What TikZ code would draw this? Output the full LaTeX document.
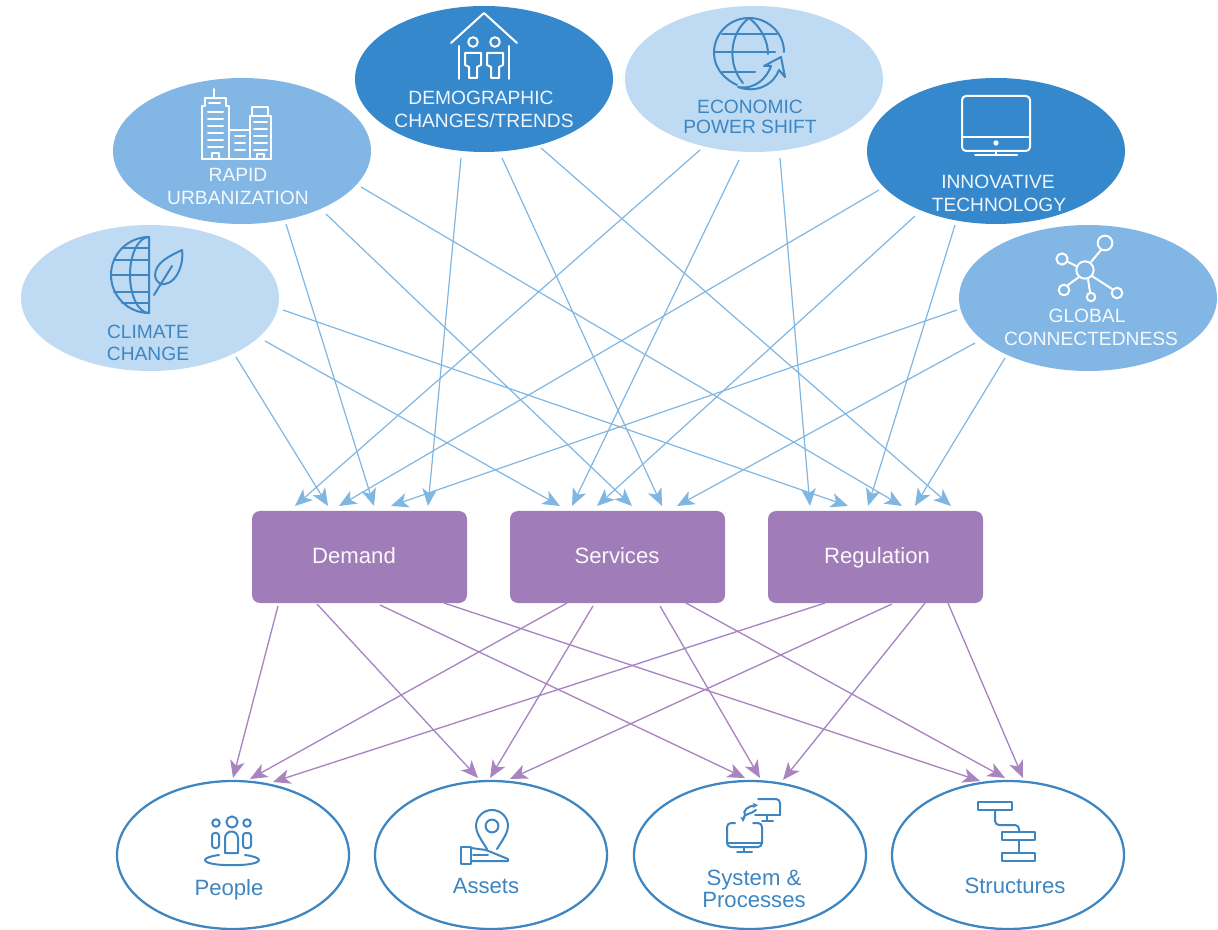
\documentclass[tikz,border=0pt]{standalone}
\usepackage{fontspec}
\setmainfont{Liberation Sans}
\usetikzlibrary{arrows.meta,calc,shapes.geometric}
\definecolor{lightb}{HTML}{BFDAF3}
\definecolor{midb}{HTML}{82B6E4}
\definecolor{darkb}{HTML}{3688CC}
\definecolor{inkb}{HTML}{3D86C2}
\definecolor{arrowb}{HTML}{7FB6E2}
\definecolor{purp}{HTML}{A07CB8}
\definecolor{purpl}{HTML}{A884C0}
\tikzset{
  topell/.style={ellipse,minimum width=193.5pt,minimum height=109.5pt,inner sep=0pt,outer sep=0pt,draw=none},
  midbox/.style={rectangle,rounded corners=6pt,fill=purp,minimum width=161.25pt,minimum height=69pt,inner sep=0pt,outer sep=0pt,draw=none},
  botell/.style={ellipse,minimum width=174pt,minimum height=111pt,inner sep=0pt,outer sep=0pt,draw=inkb,line width=1.7pt,fill=white},
  bluearrow/.style={draw=arrowb,line width=0.9pt,-{Stealth[length=13pt,width=11pt,inset=3.5pt]}},
  purparrow/.style={draw=purpl,line width=1pt,-{Stealth[length=13pt,width=11pt,inset=3.5pt]}},
  toptext/.style={font=\fontsize{14.4}{17}\selectfont,inner sep=0pt,anchor=center},
  bottext/.style={font=\fontsize{16.6}{19}\selectfont,inner sep=0pt,anchor=center,text=inkb},
  boxtext/.style={font=\fontsize{16.6}{19}\selectfont,inner sep=0pt,anchor=center,text=white!95!purp},
  iconw/.style={draw=white,line width=1.5pt,line join=round,line cap=round},
  iconb/.style={draw=inkb,line width=1.5pt,line join=round,line cap=round},
}
\begin{document}
\begin{tikzpicture}[x=0.75pt,y=-0.75pt]
\useasboundingbox (0,0) rectangle (1218,930);
% top ellipses
\node[topell,fill=lightb] (cli) at (150,298) {};
\node[topell,fill=midb]   (rap) at (242,151) {};
\node[topell,fill=darkb]  (demo) at (484,79) {};
\node[topell,fill=lightb] (eco) at (754,79) {};
\node[topell,fill=darkb]  (inn) at (996,151) {};
\node[topell,fill=midb]   (glo) at (1088,298) {};
% boxes
\node[midbox] (dem) at (359.5,557) {};
\node[midbox] (ser) at (617.5,557) {};
\node[midbox] (reg) at (875.5,557) {};
% bottom ellipses
\node[botell] (peo) at (233,855) {};
\node[botell] (ass) at (491,855) {};
\node[botell] (sys) at (750,855) {};
\node[botell] (str) at (1008,855) {};
% blue connectors
\draw[bluearrow] ($(cli)+(86,59)$) -- ($(dem.north west)+(76,-5)$);
\draw[bluearrow] ($(cli)+(115,43)$) -- ($(ser.north west)+(50,-5)$);
\draw[bluearrow] ($(cli)+(133,12)$) -- ($(reg.north west)+(80,-5)$);
\draw[bluearrow] ($(rap)+(44,73)$) -- ($(dem.north west)+(122,-5)$);
\draw[bluearrow] ($(rap)+(84,63)$) -- ($(ser.north west)+(122,-5)$);
\draw[bluearrow] ($(rap)+(119,36)$) -- ($(reg.north west)+(134,-5)$);
\draw[bluearrow] ($(demo)+(-23,79)$) -- ($(dem.north west)+(176,-5)$);
\draw[bluearrow] ($(demo)+(18,79)$) -- ($(ser.north west)+(152,-5)$);
\draw[bluearrow] ($(demo)+(57,69)$) -- ($(reg.north west)+(183,-5)$);
\draw[bluearrow] ($(eco)+(-54,71)$) -- ($(dem.north west)+(43,-5)$);
\draw[bluearrow] ($(eco)+(-15,81)$) -- ($(ser.north west)+(62,-5)$);
\draw[bluearrow] ($(eco)+(26,79)$) -- ($(reg.north west)+(42,-5)$);
\draw[bluearrow] ($(inn)+(-117,39)$) -- ($(dem.north west)+(87,-5)$);
\draw[bluearrow] ($(inn)+(-81,65)$) -- ($(ser.north west)+(87,-5)$);
\draw[bluearrow] ($(inn)+(-41,74)$) -- ($(reg.north west)+(100,-5)$);
\draw[bluearrow] ($(glo)+(-131,12)$) -- ($(dem.north west)+(139,-5)$);
\draw[bluearrow] ($(glo)+(-113,45)$) -- ($(ser.north west)+(167,-5)$);
\draw[bluearrow] ($(glo)+(-83,60)$) -- ($(reg.north west)+(147,-5)$);
% purple connectors
\draw[purparrow] ($(dem.south west)+(26,3)$) -- ($(peo)+(0,-77)$);
\draw[purparrow] ($(dem.south west)+(65,1)$) -- ($(ass)+(-13,-77)$);
\draw[purparrow] ($(dem.south west)+(128,2)$) -- ($(sys)+(-5,-77)$);
\draw[purparrow] ($(dem.south west)+(192,0)$) -- ($(str)+(-28,-74)$);
\draw[purparrow] ($(ser.south west)+(57,0)$) -- ($(peo)+(17,-76)$);
\draw[purparrow] ($(ser.south west)+(83,3)$) -- ($(ass)+(-1,-77)$);
\draw[purparrow] ($(ser.south west)+(150,3)$) -- ($(sys)+(10,-77)$);
\draw[purparrow] ($(ser.south west)+(176,0)$) -- ($(str)+(-3,-77)$);
\draw[purparrow] ($(reg.south west)+(57,0)$) -- ($(peo)+(40,-73)$);
\draw[purparrow] ($(reg.south west)+(124,1)$) -- ($(ass)+(19,-76)$);
\draw[purparrow] ($(reg.south west)+(157,0)$) -- ($(sys)+(33,-75)$);
\draw[purparrow] ($(reg.south west)+(180,0)$) -- ($(str)+(15,-77)$);
% top labels
\node[toptext,text=inkb] (t1) at (148,332) {CLIMATE};
\node[toptext,text=inkb] (t2) at (148,354) {CHANGE};
\node[toptext,text=white!92!midb] (t3) at (238,175) {RAPID};
\node[toptext,text=white!92!midb] (t4) at (238,198) {URBANIZATION};
\node[toptext,text=white!92!darkb] (t5) at (481,98) {DEMOGRAPHIC};
\node[toptext,text=white!92!darkb] (t6) at (484,121) {CHANGES/TRENDS};
\node[toptext,text=inkb] (t7) at (750,107) {ECONOMIC};
\node[toptext,text=inkb] (t8) at (750,127) {POWER SHIFT};
\node[toptext,text=white!92!darkb] (t9) at (998,182) {INNOVATIVE};
\node[toptext,text=white!92!darkb] (t10) at (999,205) {TECHNOLOGY};
\node[toptext,text=white!92!midb] (t11) at (1087,316) {GLOBAL};
\node[toptext,text=white!92!midb] (t12) at (1091,339) {CONNECTEDNESS};
% box labels
\node[boxtext] (b1) at (354,556) {Demand};
\node[boxtext] (b2) at (617,556) {Services};
\node[boxtext] (b3) at (877,558) {Regulation};
% bottom labels
\node[bottext] (l1) at (229,890) {People};
\node[bottext] (l2) at (486,886) {Assets};
\node[bottext] (l3) at (754,880) {System \&};
\node[bottext] (l4) at (754,900) {Processes};
\node[bottext] (l5) at (1015,886) {Structures};
% icon: buildings
\draw[iconw] (202,159) -- (271,159);
\draw[iconw] (202,159) -- (202,106) -- (205,106) -- (205,98) -- (226,98) -- (226,106) -- (229,106) -- (229,159);
\draw[iconw] (214,98) -- (214,89);
\draw[iconw] (209,103) -- (220,103);
\foreach \yy in {112,119,126,133,140,147} {\draw[iconw] (208,\yy) -- (223,\yy);}
\draw[iconw] (212,159) -- (212,153) -- (219,153) -- (219,159);
\draw[iconw] (229,130) -- (250,130);
\foreach \yy in {136,143,150} {\draw[iconw] (235,\yy) -- (245,\yy);}
\draw[iconw] (250,159) -- (250,116) -- (271,116) -- (271,159);
\draw[iconw] (252,116) -- (252,107) -- (268,107) -- (268,116);
\foreach \yy in {122,129,136,143,150} {\draw[iconw] (254,\yy) -- (267,\yy);}
\draw[iconw] (257,159) -- (257,154) -- (264,154) -- (264,159);
% icon: house
\draw[iconw] (451,43) -- (484,13) -- (517,43);
\draw[iconw] (459,46) -- (459,79);
\draw[iconw] (509,46) -- (509,79);
\draw[iconw] (473,42) circle[radius=3.6pt];
\draw[iconw] (495,42) circle[radius=3.6pt];
\foreach \dx in {0,22} {
  \draw[iconw,xshift=\dx*0.75pt] (465,53) -- (481,53) -- (481,65) -- (477,67) -- (477,78) -- (469,78) -- (469,67) -- (465,65) -- cycle;
}
% icon: globe with leaf
\draw[iconb] (149,237) arc[start angle=270,end angle=90,radius=38] -- cycle;
\draw[iconb] (149,237) arc[start angle=270,end angle=90,x radius=19,y radius=38];
\draw[iconb] (114,260) -- (149,260);
\draw[iconb] (111,275) -- (149,275);
\draw[iconb] (114,292) -- (149,292);
\draw[iconb] (122,248) -- (149,248);
\draw[iconb] (122,303) -- (149,303);
\draw[iconb] (182,250) .. controls (170,256) and (155,262) .. (155,276) .. controls (157,284) and (162,285) .. (165,284) .. controls (178,282) and (184,262) .. (182,250) -- cycle;
\draw[iconb] (154,295) -- (172,266);
% icon: economic globe
\draw[iconb] (737,85) .. controls (722,78) and (714,66) .. (714,53) .. controls (714,33) and (730,18) .. (749,18) .. controls (768,18) and (784,33) .. (784,52);
\draw[iconb] (749,18) .. controls (728,34) and (728,66) .. (743,83);
\draw[iconb] (749,18) .. controls (762,28) and (768,42) .. (768,54);
\draw[iconb] (722,34) -- (777,34);
\draw[iconb] (714,52) -- (775,52);
\draw[iconb] (722,72) -- (755,72);
\draw[iconb,fill=lightb] (738,87) .. controls (755,90) and (767,78) .. (771,66) -- (764,66) -- (781,57) -- (785,77) -- (779,70) .. controls (774,84) and (757,94) .. (738,87) -- cycle;
% icon: monitor
\draw[iconw,rounded corners=3pt] (962,96) rectangle (1030,151);
\draw[iconw] (962,137) -- (1030,137);
\fill[white] (996,143) circle[radius=2pt];
\draw[iconw] (996,151) -- (996,155);
\draw[iconw] (975,155.5) -- (1017,155.5);
% icon: network
\draw[iconw] (1085,270) circle[radius=6.5pt];
\draw[iconw] (1105,243) circle[radius=5.5pt];
\draw[iconw] (1062,259) circle[radius=4.2pt];
\draw[iconw] (1064,290) circle[radius=4pt];
\draw[iconw] (1091,297) circle[radius=3.2pt];
\draw[iconw] (1117,293) circle[radius=4pt];
\draw[iconw] (1091,262) -- (1101,250);
\draw[iconw] (1068,262) -- (1076,266);
\draw[iconw] (1068,285) -- (1079,277);
\draw[iconw] (1088,279) -- (1090,292);
\draw[iconw] (1092,276) -- (1112,289);
% icon: people
\draw[iconb] (232,822) circle[radius=4.2pt];
\draw[iconb] (216,823) circle[radius=2.8pt];
\draw[iconb] (247,823) circle[radius=2.8pt];
\draw[iconb] (225,853) -- (225,838) arc[start angle=180,end angle=360,radius=6.5] -- (238,853) -- cycle;
\draw[iconb,rounded corners=2pt] (212,848) -- (212,833) -- (219,833) -- (219,848) -- cycle;
\draw[iconb,rounded corners=2pt] (243,848) -- (243,833) -- (251,833) -- (251,848) -- cycle;
\draw[iconb] (219,855) .. controls (211,856) and (205,858) .. (205,860) .. controls (205,867) and (259,867) .. (259,860) .. controls (259,858) and (253,856) .. (245,855);
% icon: pin and hand
\draw[iconb] (487,849) .. controls (480,838) and (476,832) .. (476,826) arc[start angle=180,end angle=360,radius=16] .. controls (508,832) and (504,838) .. (497,849);
\draw[iconb] (492,826) circle[radius=4.8pt];
\draw[iconb] (461,847) rectangle (471,864);
\draw[iconb] (471,848) -- (486,850) -- (508,859) -- (508,861) -- (471,861);
\draw[iconb] (473,855) -- (488,855);
% icon: systems
\draw[iconb,rounded corners=3pt] (758,799) -- (780,799) -- (780,815);
\draw[iconb] (780,815) -- (755,815);
\draw[iconb] (767,816) -- (767,821);
\draw[iconb] (762,821) -- (773,821);
\draw[iconb,rounded corners=3pt] (735,823) -- (727,823) -- (727,847) -- (762,847) -- (762,823) -- (753,823);
\draw[iconb] (727,843) -- (762,843);
\draw[iconb] (744,848) -- (744,852);
\draw[iconb] (737,852) -- (752,852);
\draw[iconb,-{Stealth[length=4pt,width=4pt]}] (745,815) .. controls (742,811) and (748,806) .. (758,805);
\draw[iconb,-{Stealth[length=4pt,width=4pt]}] (756,810) .. controls (752,814) and (743,814) .. (743,822);
% icon: structures
\draw[iconb] (978,802) rectangle (1012,810);
\draw[iconb] (1002,832) rectangle (1035,840);
\draw[iconb] (1002,853) rectangle (1035,861);
\draw[iconb,rounded corners=3pt] (995,810) -- (995,825) -- (1019,825) -- (1019,832);
\draw[iconb] (1019,840) -- (1019,853);
\end{tikzpicture}
\end{document}
